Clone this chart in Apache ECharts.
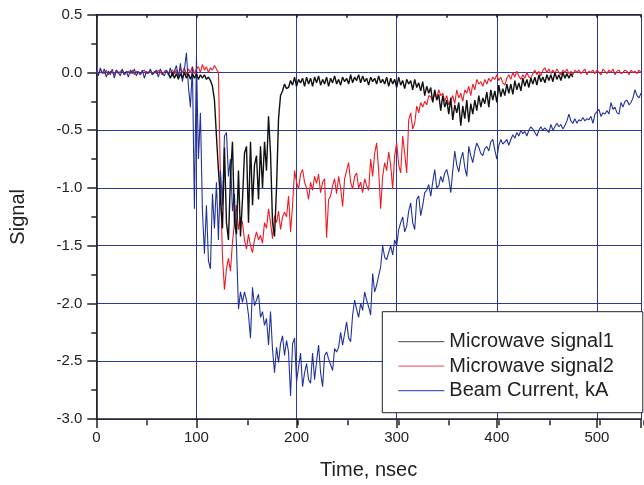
<!DOCTYPE html>
<html><head><meta charset="utf-8">
<script src="https://cdn.jsdelivr.net/npm/echarts@6/dist/echarts.min.js"></script>
<style>html,body{margin:0;padding:0;background:#fff}#c{width:644px;height:485px}</style>
</head><body><div id="c"></div>
<script>
// ---- data ----
const seriesNames = ['Microwave signal1', 'Microwave signal2', 'Beam Current, kA'];
const xTickValues = [0, 100, 200, 300, 400, 500];
const yTickValues = [-3.0, -2.5, -2.0, -1.5, -1.0, -0.5, 0.0, 0.5];
const sampleStep = 2;          // ns between samples
const signal1Start = 72;       // ns, first sample of signal1
const signal2Start = 0;
const beamStart = 0;

// Microwave signal1 (black), t = 72..476 ns
const signal1 = [
 -0.01,-0.05,0.00,-0.05,-0.01,-0.06,-0.01,-0.05,0.00,-0.05,
 -0.01,-0.06,-0.01,-0.05,-0.01,-0.06,-0.02,-0.05,-0.02,-0.06,
 -0.04,-0.07,-0.12,-0.24,-0.55,-0.85,-1.1,-1.35,-0.65,-1.3,
 -1.45,-0.9,-0.6,-1.3,-1.4,-0.85,-1.42,-1.1,-0.7,-0.64,
 -1.3,-0.6,-1.15,-0.8,-0.72,-1.1,-0.64,-1.0,-0.6,-0.85,
 -0.38,-0.7,-1.3,-1.42,-1.0,-0.4,-0.2,-0.16,-0.1,-0.14,
 -0.13,-0.07,-0.11,-0.04,-0.12,-0.06,-0.09,-0.05,-0.12,-0.04,
 -0.1,-0.05,-0.12,-0.04,-0.09,-0.03,-0.11,-0.06,-0.1,-0.04,
 -0.12,-0.05,-0.09,-0.03,-0.1,-0.06,-0.11,-0.04,-0.08,-0.05,
 -0.1,-0.02,-0.09,-0.04,-0.07,-0.02,-0.09,-0.03,-0.08,-0.05,
 -0.11,-0.04,-0.08,-0.05,-0.1,-0.03,-0.09,-0.06,-0.1,-0.04,
 -0.12,-0.05,-0.1,-0.06,-0.13,-0.04,-0.11,-0.07,-0.14,-0.06,
 -0.1,-0.07,-0.15,-0.06,-0.13,-0.09,-0.16,-0.08,-0.2,-0.12,
 -0.18,-0.13,-0.26,-0.15,-0.24,-0.19,-0.33,-0.2,-0.3,-0.24,
 -0.36,-0.22,-0.41,-0.28,-0.35,-0.26,-0.46,-0.29,-0.4,-0.24,
 -0.43,-0.27,-0.36,-0.24,-0.33,-0.2,-0.3,-0.22,-0.27,-0.17,
 -0.3,-0.15,-0.24,-0.16,-0.26,-0.11,-0.21,-0.14,-0.2,-0.1,
 -0.18,-0.1,-0.19,-0.07,-0.15,-0.09,-0.16,-0.05,-0.12,-0.06,
 -0.13,-0.05,-0.1,-0.04,-0.11,-0.02,-0.08,-0.04,-0.09,-0.02,
 -0.07,-0.02,-0.08,0.00,-0.06,-0.02,-0.07,0.00,-0.05,-0.01,
 -0.05,-0.01,-0.04
];

// Microwave signal2 (red), t = 0..546 ns
const signal2 = [
 0.01,-0.02,0.02,0.00,-0.01,0.02,-0.02,0.01,0.00,-0.02,
 0.02,-0.01,0.01,0.02,-0.02,0.00,0.01,-0.01,0.02,-0.02,
 0.01,0.00,-0.02,0.01,0.02,-0.01,0.00,0.02,-0.02,0.01,
 -0.01,0.02,0.00,-0.02,0.01,0.02,-0.01,0.00,0.02,-0.01,
 0.02,-0.01,0.03,0.00,0.04,-0.02,0.03,0.00,0.05,-0.01,
 0.03,0.05,0.00,0.07,0.02,0.05,0.00,0.04,0.02,0.06,
 0.03,0.00,-0.95,-1.6,-1.88,-1.7,-1.61,-1.72,-1.47,-1.3,
 -1.15,-1.36,-1.25,-1.3,-1.45,-1.53,-1.4,-1.5,-1.56,-1.45,
 -1.38,-1.45,-1.41,-1.48,-1.3,-1.35,-1.18,-1.3,-1.44,-1.24,
 -1.3,-1.2,-1.36,-1.25,-1.21,-1.25,-1.07,-1.38,-1.15,-0.85,
 -0.95,-1.01,-0.88,-0.84,-0.95,-1.0,-1.1,-0.95,-1.02,-0.9,
 -0.96,-0.88,-1.04,-0.95,-0.92,-1.43,-1.1,-1.07,-0.98,-0.92,
 -1.05,-0.9,-1.0,-1.16,-0.92,-0.85,-0.78,-0.95,-1.01,-0.9,
 -0.87,-1.0,-0.95,-1.04,-0.92,-0.98,-1.02,-0.75,-0.9,-0.7,
 -0.61,-0.85,-1.18,-0.9,-0.78,-0.85,-0.69,-0.8,-1.01,-0.72,
 -0.61,-0.8,-0.87,-0.55,-0.7,-0.87,-0.41,-0.35,-0.49,-0.44,
 -0.29,-0.35,-0.26,-0.3,-0.25,-0.28,-0.2,-0.21,-0.25,-0.18,
 -0.22,-0.15,-0.2,-0.18,-0.25,-0.2,-0.28,-0.24,-0.2,-0.27,
 -0.15,-0.22,-0.18,-0.25,-0.15,-0.18,-0.12,-0.2,-0.1,-0.15,
 -0.06,-0.1,-0.08,-0.12,-0.06,-0.1,-0.05,-0.08,-0.04,-0.06,
 -0.02,-0.07,-0.04,-0.09,-0.11,-0.05,-0.02,-0.06,0.00,-0.04,
 0.01,-0.03,-0.06,-0.02,-0.05,0.00,-0.04,-0.05,-0.01,0.02,
 -0.02,0.01,-0.03,0.02,0.04,0.00,0.03,-0.01,0.02,-0.01,
 0.03,0.00,-0.02,0.02,0.00,0.03,-0.01,0.01,-0.02,0.02,
 0.00,0.02,-0.01,0.01,0.03,-0.02,0.01,0.00,0.02,-0.01,
 0.02,0.00,-0.02,0.03,0.01,-0.01,0.02,0.00,0.03,-0.02,
 0.01,0.02,-0.01,0.00,0.02,0.01,-0.02,0.02,0.00,0.01,
 -0.01,0.02,0.00,0.01
];

// Beam Current, kA (blue), t = 0..546 ns
const beam = [
 0.02,-0.03,0.04,-0.01,0.03,-0.04,0.01,-0.02,0.03,-0.05,
 0.02,0.00,-0.03,0.03,-0.02,0.01,-0.04,0.02,-0.01,0.03,
 -0.03,0.01,-0.02,0.02,-0.05,0.01,-0.01,0.03,-0.02,0.00,
 0.02,-0.04,0.03,-0.01,-0.03,0.02,-0.02,0.04,-0.03,0.01,
 0.06,-0.05,0.08,-0.08,0.03,0.17,-0.12,-0.3,0.05,-1.18,
 0.14,-0.75,-0.35,-1.2,-1.57,-1.15,-1.63,-1.70,-1.05,-1.35,
 -0.95,-1.45,-0.85,-1.15,-0.55,-0.52,-0.9,-0.75,-1.2,-1.05,
 -1.5,-2.05,-1.9,-1.99,-1.9,-1.97,-2.1,-2.3,-1.86,-2.02,
 -1.97,-1.92,-2.12,-2.07,-2.19,-2.13,-2.36,-2.07,-2.4,-2.6,
 -2.38,-2.51,-2.35,-2.28,-2.45,-2.32,-2.42,-2.8,-2.35,-2.3,
 -2.68,-2.55,-2.43,-2.72,-2.6,-2.52,-2.66,-2.69,-2.43,-2.66,
 -2.5,-2.36,-2.6,-2.72,-2.45,-2.42,-2.48,-2.53,-2.58,-2.39,
 -2.42,-2.38,-2.25,-2.36,-2.26,-2.16,-2.3,-2.33,-2.1,-1.97,
 -2.05,-2.12,-2.0,-2.06,-1.9,-1.97,-2.03,-2.1,-1.74,-1.9,
 -1.84,-1.76,-1.68,-1.5,-1.6,-1.62,-1.56,-1.5,-1.58,-1.45,
 -1.5,-1.36,-1.3,-1.25,-1.38,-1.33,-1.2,-1.13,-1.3,-1.36,
 -1.1,-1.07,-1.24,-1.15,-1.04,-1.02,-0.97,-1.07,-0.95,-0.84,
 -1.0,-0.98,-0.9,-0.95,-0.87,-0.84,-0.92,-1.04,-0.85,-0.68,
 -0.8,-0.86,-0.75,-0.69,-0.82,-0.9,-0.64,-0.72,-0.78,-0.68,
 -0.61,-0.65,-0.7,-0.72,-0.66,-0.64,-0.68,-0.6,-0.58,-0.67,
 -0.75,-0.63,-0.58,-0.62,-0.6,-0.58,-0.63,-0.58,-0.54,-0.57,
 -0.52,-0.55,-0.5,-0.53,-0.51,-0.55,-0.5,-0.47,-0.49,-0.52,
 -0.55,-0.5,-0.47,-0.5,-0.48,-0.5,-0.52,-0.45,-0.5,-0.47,
 -0.44,-0.47,-0.45,-0.49,-0.46,-0.42,-0.36,-0.42,-0.44,-0.4,
 -0.44,-0.41,-0.42,-0.39,-0.42,-0.4,-0.41,-0.38,-0.44,-0.36,
 -0.34,-0.32,-0.38,-0.35,-0.36,-0.33,-0.36,-0.26,-0.32,-0.3,
 -0.35,-0.36,-0.26,-0.3,-0.25,-0.24,-0.28,-0.26,-0.22,-0.15,
 -0.2,-0.22,-0.18,-0.19
];

// ---- build chart ----
function toPairs(start, vals) { return vals.map((v, i) => [start + i * sampleStep, v]); }

const FONT = '"Liberation Sans", Arial, sans-serif';
const AX = '#222';
const GRIDC = '#2b3a9a';
const X_MIN = xTickValues[0], X_MAX = 544, X_INT = xTickValues[1] - xTickValues[0];
const Y_MIN = yTickValues[0], Y_MAX = yTickValues[yTickValues.length - 1], Y_INT = yTickValues[1] - yTickValues[0];

const chart = echarts.init(document.getElementById('c'), null, { renderer: 'canvas' });
const gridRect = { left: 96.3, top: 14.7, width: 547.7, height: 405.6 };

chart.setOption({
  animation: false,
  backgroundColor: '#fff',
  grid: [Object.assign({}, gridRect), Object.assign({}, gridRect)],
  xAxis: [
    {
      gridIndex: 0, type: 'value', position: 'bottom', min: X_MIN, max: X_MAX, interval: X_INT,
      axisLine: { show: true, onZero: false, lineStyle: { color: AX, width: 1.6 } },
      axisTick: { show: true, inside: false, length: 9, lineStyle: { color: AX, width: 1.5 } },
      axisLabel: { show: true, fontSize: 15, color: AX, fontFamily: FONT, margin: 11,
        formatter: v => (xTickValues.indexOf(v) >= 0 ? String(v) : '') },
      splitLine: { show: true, lineStyle: { color: GRIDC, width: 1 } },
      name: 'Time, nsec', nameLocation: 'middle', nameGap: 41,
      nameTextStyle: { fontSize: 20, color: AX, fontFamily: FONT }
    },
    {
      gridIndex: 0, type: 'value', position: 'top', min: X_MIN, max: X_MAX, interval: X_INT / 2,
      axisLine: { show: true, onZero: false, lineStyle: { color: AX, width: 1.6 } },
      axisTick: { show: true, inside: true, length: 3, lineStyle: { color: AX, width: 1.5 } },
      axisLabel: { show: false }, splitLine: { show: false }
    },
    {
      gridIndex: 1, type: 'value', position: 'bottom', min: X_MIN, max: X_MAX, interval: X_INT / 2,
      axisLine: { show: false, onZero: false },
      axisTick: { show: true, inside: false, length: 5, lineStyle: { color: AX, width: 1.5 } },
      axisLabel: { show: false }, splitLine: { show: false }
    }
  ],
  yAxis: [
    {
      gridIndex: 0, type: 'value', min: Y_MIN, max: Y_MAX, interval: Y_INT,
      axisLine: { show: true, onZero: false, lineStyle: { color: AX, width: 1.6 } },
      axisTick: { show: true, inside: false, length: 9, lineStyle: { color: AX, width: 1.5 } },
      minorTick: { show: true, splitNumber: 2, length: 5, lineStyle: { color: AX, width: 1.5 } },
      axisLabel: { fontSize: 15, color: AX, fontFamily: FONT, margin: 14, formatter: v => v.toFixed(1) },
      splitLine: { show: true, lineStyle: { color: GRIDC, width: 1 } },
      name: 'Signal', nameLocation: 'middle', nameGap: 68, nameRotate: 90,
      nameTextStyle: { fontSize: 20, color: AX, fontFamily: FONT }
    },
    { gridIndex: 1, type: 'value', min: Y_MIN, max: Y_MAX, show: false }
  ],
  legend: {
    orient: 'vertical', left: 382.3, top: 311.7,
    padding: [18, 29, 10, 16],
    icon: 'rect', itemWidth: 46, itemHeight: 1.3, itemGap: 0.5,
    borderColor: AX, borderWidth: 1, backgroundColor: '#fff',
    textStyle: { fontSize: 20, color: AX, fontFamily: FONT, lineHeight: 24 },
    data: [
      { name: seriesNames[0], itemStyle: { color: '#6a6a6a' } },
      { name: seriesNames[1], itemStyle: { color: '#f06a72' } },
      { name: seriesNames[2], itemStyle: { color: '#4a5cb8' } }
    ]
  },
  series: [
    { name: seriesNames[1], type: 'line', xAxisIndex: 0, yAxisIndex: 0, showSymbol: false, symbol: 'none',
      data: toPairs(signal2Start, signal2), lineStyle: { color: '#ec1c24', width: 1.1 }, itemStyle: { color: '#ec1c24' }, z: 3 },
    { name: seriesNames[2], type: 'line', xAxisIndex: 0, yAxisIndex: 0, showSymbol: false, symbol: 'none',
      data: toPairs(beamStart, beam), lineStyle: { color: '#22339a', width: 1.1 }, itemStyle: { color: '#22339a' }, z: 4 },
    { name: seriesNames[0], type: 'line', xAxisIndex: 0, yAxisIndex: 0, showSymbol: false, symbol: 'none',
      data: toPairs(signal1Start, signal1), lineStyle: { color: '#111', width: 1.4 }, itemStyle: { color: '#111' }, z: 5 }
  ]
});
</script>
</body></html>
